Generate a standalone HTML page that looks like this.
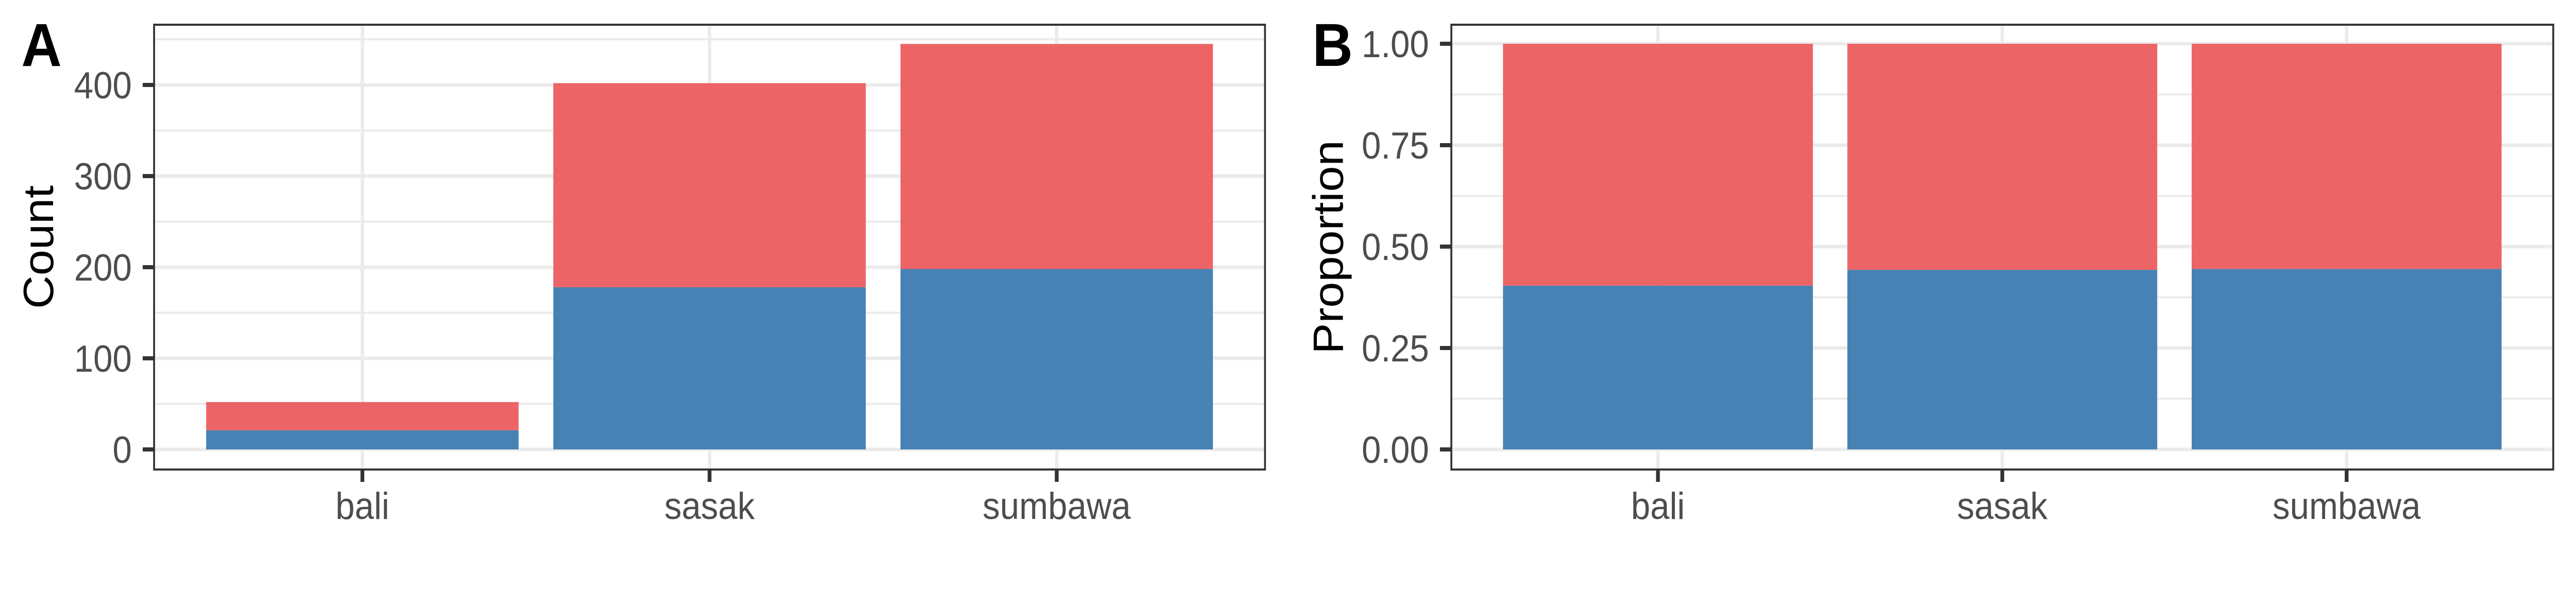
<!DOCTYPE html>
<html><head><meta charset="utf-8"><style>
html,body{margin:0;padding:0;background:#fff;width:100%;height:100%;overflow:hidden;}
svg{display:block;width:100vw;height:100vh;font-family:"Liberation Sans",Arial,sans-serif;}
</style></head><body>
<svg id="chart" viewBox="0 0 5433 1181" preserveAspectRatio="none" xmlns="http://www.w3.org/2000/svg"></svg>
<script>
const categories = ["bali", "sasak", "sumbawa"];
const blueCounts = [21, 178, 198];
const redCounts = [31, 224, 247];
const countTicks = [0, 100, 200, 300, 400];
const countTickLabels = ["0", "100", "200", "300", "400"];
const propTicks = [0, 0.25, 0.5, 0.75, 1];
const propTickLabels = ["0.00", "0.25", "0.50", "0.75", "1.00"];

const NS = "http://www.w3.org/2000/svg";
const svg = document.getElementById("chart");
function mk(tag, attrs, parent) {
  const e = document.createElementNS(NS, tag);
  for (const k in attrs) e.setAttribute(k, attrs[k]);
  (parent || svg).appendChild(e);
  return e;
}
const BLUE = "#4682B4", RED = "#ED6467";

function panel(opt) {
  const g = mk("g", {});
  
  
  const L = opt.left, R = opt.right, T = 48, B = 912;
  const y0 = 873, yTop = opt.yTopPx;
  const yScale = v => y0 - (v - opt.yMin) / (opt.yMax - opt.yMin) * (y0 - yTop);
  const unit = (R - L) / 3.2;
  const xScale = i => L + (0.6 + i) * unit;
  for (let i = 0; i < opt.ticks.length - 1; i++) {
    const v = (opt.ticks[i] + opt.ticks[i + 1]) / 2;
    const ln = mk("line", {x1: L, x2: R, y1: yScale(v), y2: yScale(v), stroke: "#EBEBEB", "stroke-width": 4}, g);
    
    
  }
  if (opt.extraMinor !== undefined) {
    const v = opt.extraMinor;
    const ln = mk("line", {x1: L, x2: R, y1: yScale(v), y2: yScale(v), stroke: "#EBEBEB", "stroke-width": 4}, g);
    
    
  }
  opt.ticks.forEach(v => {
    const ln = mk("line", {x1: L, x2: R, y1: yScale(v), y2: yScale(v), stroke: "#EBEBEB", "stroke-width": 7}, g);
    
    
  });
  categories.forEach((c, i) => {
    const ln = mk("line", {x1: xScale(i), x2: xScale(i), y1: T, y2: B, stroke: "#EBEBEB", "stroke-width": 7}, g);
    
    
  });
  const bw = 0.9 * unit;
  categories.forEach((c, i) => {
    const b = opt.blue[i], r = opt.red[i];
    const rb = mk("rect", {x: xScale(i) - bw / 2, y: yScale(b), width: bw, height: yScale(0) - yScale(b), fill: BLUE}, g);
    
    
    const rr = mk("rect", {x: xScale(i) - bw / 2, y: yScale(b + r), width: bw, height: yScale(b) - yScale(b + r), fill: RED}, g);
    
    
  });
  const bd = mk("rect", {x: L, y: T, width: R - L, height: B - T, fill: "none", stroke: "#333333", "stroke-width": 4}, g);
  
  
  opt.ticks.forEach((v, i) => {
    const tk = mk("line", {x1: L - 24, x2: L, y1: yScale(v), y2: yScale(v), stroke: "#333333", "stroke-width": 8}, g);
    
    
    const t = mk("text", {x: L - 47, y: yScale(v) + 26, "text-anchor": "end", "font-size": 73, fill: "#4D4D4D"}, g);
    t.textContent = opt.labels[i];
    
    
  });
  categories.forEach((c, i) => {
    const tk = mk("line", {x1: xScale(i), x2: xScale(i), y1: B, y2: B + 24, stroke: "#333333", "stroke-width": 8}, g);
    
    
    const t = mk("text", {x: xScale(i), y: 1008, "text-anchor": "middle", "font-size": 73, fill: "#4D4D4D"}, g);
    t.textContent = c;
    
    
  });
  const yt = mk("text", {x: 0, y: 0, "text-anchor": "middle", "font-size": 90, fill: "#000", transform: "translate(" + (opt.titleX) + "," + ((T + B) / 2) + ") rotate(-90)"}, g);
  yt.textContent = opt.title;
  
  
  const tg = mk("text", {x: opt.tagX, y: 128, "font-size": 118, "font-weight": "bold", fill: "#000"}, g);
  tg.textContent = opt.tag;
  
  
}

panel({name: "panel-a-count", left: 325, right: 2668, yMin: 0, yMax: 400, yTopPx: 165,
  ticks: countTicks, labels: countTickLabels, extraMinor: 450,
  blue: blueCounts, red: redCounts, title: "Count", titleX: 112, tag: "A", tagX: 45});

const propBlue = blueCounts.map((b, i) => b / (b + redCounts[i]));
const propRed = propBlue.map(p => 1 - p);
panel({name: "panel-b-proportion", left: 3061, right: 5385, yMin: 0, yMax: 1, yTopPx: 85,
  ticks: propTicks, labels: propTickLabels,
  blue: propBlue, red: propRed, title: "Proportion", titleX: 2832, tag: "B", tagX: 2768});
</script>
</body></html>
